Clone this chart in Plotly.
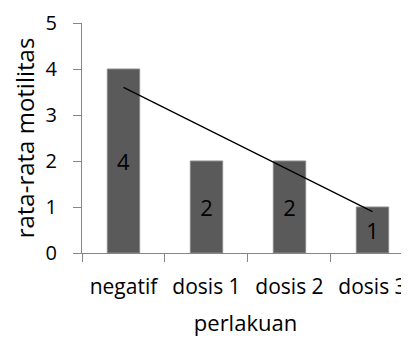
import plotly.graph_objects as go
import numpy as np

categories = ["negatif", "dosis 1", "dosis 2", "dosis 3"]
values = [4, 2, 2, 1]
y_ticks = [0, 1, 2, 3, 4, 5]

# linear trendline (least squares) over category positions 1..4
x_idx = np.arange(1, len(values) + 1)
slope, intercept = np.polyfit(x_idx, values, 1)
trend_y = [slope * x_idx[0] + intercept, slope * x_idx[-1] + intercept]

FONT = "Open Sans"
AXIS = "#868686"

fig = go.Figure()
fig.add_bar(
    x=categories, y=values, width=0.39,
    marker=dict(color="#5a5a5a", line=dict(color="#8a8a8a", width=1)),
    text=[str(v) for v in values], textposition="inside",
    insidetextanchor="middle", textangle=0,
    textfont=dict(color="black", size=22, family=FONT),
)
fig.add_scatter(
    x=[categories[0], categories[-1]], y=trend_y, mode="lines",
    line=dict(color="black", width=1.3),
)

# page body has an 8px default margin, so the figure is offset accordingly
fig.update_layout(
    width=401, height=332,
    margin=dict(l=74, r=0, t=15, b=87, autoexpand=False),
    plot_bgcolor="white", paper_bgcolor="white",
    showlegend=False,
    font=dict(family=FONT, color="black"),
    xaxis=dict(
        range=[-0.5, 3.44], showline=True, linecolor=AXIS, linewidth=1,
        ticks="outside", tickson="boundaries", ticklen=8, tickcolor=AXIS,
        tickangle=0, automargin=False, ticklabelstandoff=15,
        tickfont=dict(size=21, family=FONT, color="black"),
        showgrid=False, zeroline=False,
        title=dict(text="perlakuan", font=dict(size=22, family=FONT, color="black"), standoff=16),
    ),
    yaxis=dict(
        range=[0, 5], tickvals=y_ticks, showline=True, linecolor=AXIS, linewidth=1,
        ticks="outside", ticklen=8, tickcolor=AXIS, ticklabelstandoff=12,
        automargin=False,
        tickfont=dict(size=20, family=FONT, color="black"),
        showgrid=False, zeroline=False,
        title=dict(text="rata-rata motilitas", font=dict(size=24, family=FONT, color="black"), standoff=16),
    ),
)

fig.write_html("out.html")
